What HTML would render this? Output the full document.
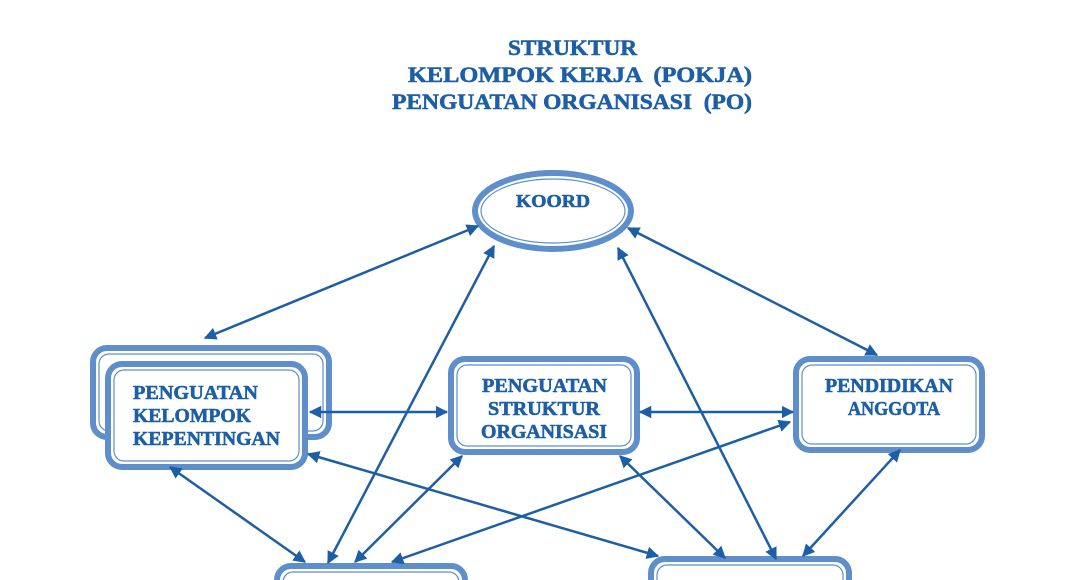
<!DOCTYPE html>
<html><head><meta charset="utf-8"><style>
html,body{margin:0;padding:0;background:#fff;width:1068px;height:580px;overflow:hidden;}
svg{display:block;}
text{font-family:"Liberation Serif",serif;font-weight:700;fill:#1d5fa6;stroke:#1d5fa6;stroke-width:0.6;text-anchor:start;}
</style></head><body>
<svg width="1068" height="580" viewBox="0 0 1068 580" xmlns="http://www.w3.org/2000/svg">
<defs>
<marker id="a" viewBox="0 0 10 10" refX="9" refY="5" markerWidth="5" markerHeight="5" orient="auto-start-reverse">
<path d="M0,0 L10,5 L0,10 z" fill="#1d5fa6"/></marker>
</defs>
<g fill="#fff" stroke="#5e8fcb">
<ellipse cx="553" cy="211" rx="78" ry="38" stroke-width="6"/>
<ellipse cx="553" cy="211" rx="72" ry="32" stroke-width="1.2"/>
<rect x="93" y="348" width="236" height="89" rx="14" stroke-width="6"/>
<rect x="99" y="354" width="224" height="77" rx="10" stroke-width="1.2"/>
<rect x="108" y="364" width="197" height="103" rx="14" stroke-width="6"/>
<rect x="114" y="370" width="185" height="91" rx="10" stroke-width="1.2"/>
<rect x="451" y="359" width="186" height="93" rx="14" stroke-width="6"/>
<rect x="457" y="365" width="174" height="81" rx="10" stroke-width="1.2"/>
<rect x="796" y="359" width="186" height="91" rx="14" stroke-width="6"/>
<rect x="802" y="365" width="174" height="79" rx="10" stroke-width="1.2"/>
<rect x="277" y="566" width="188" height="40" rx="14" stroke-width="6"/>
<rect x="283" y="572" width="176" height="30" rx="10" stroke-width="1.2"/>
<rect x="651" y="559" width="198" height="40" rx="14" stroke-width="6"/>
<rect x="657" y="565" width="186" height="30" rx="10" stroke-width="1.2"/>
</g>

<text x="508" y="55" font-size="22" textLength="129" lengthAdjust="spacingAndGlyphs">STRUKTUR</text>
<text x="408" y="82" font-size="22" textLength="344" lengthAdjust="spacingAndGlyphs" xml:space="preserve">KELOMPOK KERJA  (POKJA)</text>
<text x="392" y="109" font-size="22" textLength="360" lengthAdjust="spacingAndGlyphs" xml:space="preserve">PENGUATAN ORGANISASI  (PO)</text>

<text x="516" y="207" font-size="18" textLength="74" lengthAdjust="spacingAndGlyphs">KOORD</text>
<text x="133" y="399" font-size="20" textLength="125" lengthAdjust="spacingAndGlyphs">PENGUATAN</text>
<text x="133" y="422" font-size="20" textLength="118" lengthAdjust="spacingAndGlyphs">KELOMPOK</text>
<text x="133" y="445" font-size="20" textLength="147" lengthAdjust="spacingAndGlyphs">KEPENTINGAN</text>
<text x="482" y="392" font-size="20" textLength="125" lengthAdjust="spacingAndGlyphs">PENGUATAN</text>
<text x="488" y="415" font-size="20" textLength="112" lengthAdjust="spacingAndGlyphs">STRUKTUR</text>
<text x="481" y="438" font-size="20" textLength="126" lengthAdjust="spacingAndGlyphs">ORGANISASI</text>
<text x="825" y="392" font-size="20" textLength="128" lengthAdjust="spacingAndGlyphs">PENDIDIKAN</text>
<text x="848" y="415" font-size="20" textLength="92" lengthAdjust="spacingAndGlyphs">ANGGOTA</text>

<g stroke="#1d5fa6" stroke-width="2.5" marker-start="url(#a)" marker-end="url(#a)">
<line x1="205" y1="338" x2="478" y2="226"/>
<line x1="310" y1="412" x2="447" y2="412"/>
<line x1="640" y1="412" x2="793" y2="412"/>
<line x1="628" y1="228" x2="877" y2="355"/>
<line x1="170" y1="467" x2="305" y2="562"/>
<line x1="308" y1="454" x2="658" y2="556"/>
<line x1="494" y1="246" x2="328" y2="563"/>
<line x1="462" y1="456" x2="355" y2="562"/>
<line x1="790" y1="422" x2="392" y2="562"/>
<line x1="618" y1="248" x2="776" y2="559"/>
<line x1="620" y1="456" x2="725" y2="558"/>
<line x1="900" y1="450" x2="803" y2="556"/>
</g>
</svg>
</body></html>
